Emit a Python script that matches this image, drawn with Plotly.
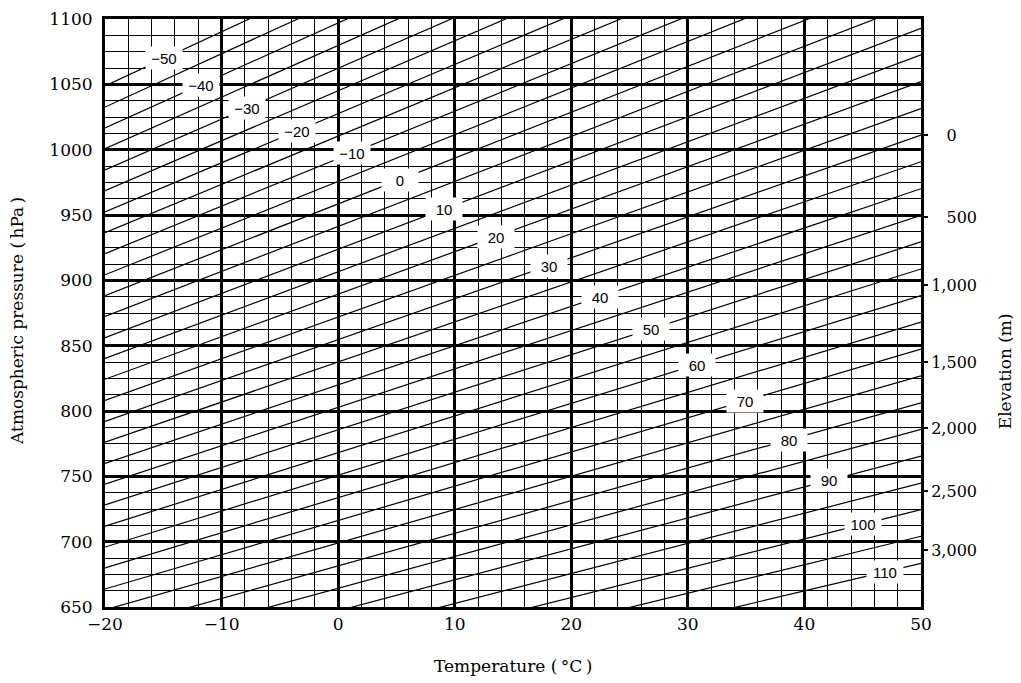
import plotly.graph_objects as go

# ---- data ----
# constant-density lines: label value and ratio p/T (hPa per K, T in kelvin)
line_values = [-50, -45, -40, -35, -30, -25, -20, -15, -10, -5, 0, 5, 10, 15, 20, 25,
               30, 35, 40, 45, 50, 55, 60, 65, 70, 75, 80, 85, 90, 95, 100, 105, 110]
line_ratio = [4.143, 4.079, 4.016, 3.953, 3.889, 3.826, 3.762, 3.699, 3.636, 3.572,
              3.509, 3.446, 3.382, 3.319, 3.256, 3.192, 3.129, 3.066, 3.002, 2.939,
              2.876, 2.812, 2.749, 2.686, 2.622, 2.559, 2.495, 2.432, 2.369, 2.305,
              2.242, 2.179, 2.115]

# labelled lines and the temperature at which their label sits
label_values = [-50, -40, -30, -20, -10, 0, 10, 20, 30, 40, 50, 60, 70, 80, 90, 100, 110]
label_temp = [-14.9, -11.8, -7.8, -3.5, 1.2, 5.3, 9.1, 13.5, 18.1, 22.5, 26.8, 30.8,
              34.9, 38.7, 42.1, 45.0, 46.9]

# elevation scale on the right (pressure position of each elevation tick)
elev_labels = ["0", "500", "1,000", "1,500", "2,000", "2,500", "3,000"]
elev_pressure = [1011.2, 948.5, 896.4, 837.5, 787.0, 738.8, 693.6]

x_range = [-20, 50]
y_range = [650, 1100]
x_ticks = [-20, -10, 0, 10, 20, 30, 40, 50]
y_ticks = [650, 700, 750, 800, 850, 900, 950, 1000, 1050, 1100]

KELVIN = 273.15

fig = go.Figure()

# diagonal lines (one trace, gaps between lines)
lx, ly = [], []
for r in line_ratio:
    for t in x_range:
        lx.append(t)
        ly.append(r * (t + KELVIN))
    lx.append(None)
    ly.append(None)
fig.add_trace(go.Scatter(x=lx, y=ly, mode="lines",
                         line=dict(color="black", width=1.2),
                         hoverinfo="skip", showlegend=False))

# invisible trace to activate right axis
fig.add_trace(go.Scatter(x=[x_range[0]], y=[y_range[0]], yaxis="y2", mode="markers",
                         marker=dict(opacity=0), hoverinfo="skip", showlegend=False))

# labels on the lines
ratio_of = dict(zip(line_values, line_ratio))
for v, t in zip(label_values, label_temp):
    p = ratio_of[v] * (t + KELVIN)
    txt = ("\u2212" + str(abs(v))) if v < 0 else str(v)
    fig.add_annotation(x=t, y=p, xref="x", yref="y", text=txt, showarrow=False,
                       font=dict(family="Liberation Sans", size=15, color="black"),
                       bgcolor="white", width=32, height=18, borderpad=2,
                       xanchor="center", yanchor="middle")

serif = "DejaVu Serif"

fig.add_annotation(text="Temperature (\u2009°C\u2009)", xref="paper", yref="paper",
                   x=0.5, y=-0.1, xanchor="center", yanchor="middle", showarrow=False,
                   font=dict(family=serif, size=17, color="black"))
fig.add_annotation(text="Atmospheric pressure (\u2009hPa\u2009)", xref="paper", yref="paper",
                   x=-0.107, y=0.486, xanchor="center", yanchor="middle", textangle=-90,
                   showarrow=False, font=dict(family=serif, size=17, color="black"))
fig.add_annotation(text="Elevation (m)", xref="paper", yref="paper",
                   x=1.103, y=0.401, xanchor="center", yanchor="middle", textangle=-90,
                   showarrow=False, font=dict(family=serif, size=17, color="black"))

fig.update_layout(
    width=1013, height=675,
    margin=dict(l=97, r=100, t=11, b=76),
    paper_bgcolor="white", plot_bgcolor="white",
    font=dict(family=serif, size=17, color="black"),
    xaxis=dict(range=x_range, tickvals=x_ticks, showgrid=True, gridcolor="black",
               gridwidth=2.6, zeroline=False, showline=True, mirror=True,
               linecolor="black", linewidth=3, ticks="", ticklabelstandoff=0,
               automargin=False, ticklabeloverflow="allow",
               minor=dict(dtick=2, tick0=-20, showgrid=True, gridcolor="black",
                          gridwidth=1.3, ticks="")),
    yaxis=dict(range=y_range, tickvals=y_ticks, showgrid=True, gridcolor="black",
               gridwidth=2.6, zeroline=False, showline=True, mirror=True,
               linecolor="black", linewidth=3, ticks="", ticklabelstandoff=6,
               automargin=False, ticklabeloverflow="allow",
               minor=dict(dtick=12.5, tick0=650, showgrid=True, gridcolor="black",
                          gridwidth=1.3, ticks="")),
    yaxis2=dict(range=y_range, overlaying="y", side="right", showgrid=False,
                zeroline=False, showline=False, tickvals=elev_pressure,
                ticktext=["\u2007\u2008" + s if len(s) < 4 else s for s in elev_labels],
                ticks="outside", ticklen=6, tickwidth=1.5, tickcolor="black",
                tickfont=dict(size=16), automargin=False, ticklabeloverflow="allow"),
)

fig.write_html("out.html")
